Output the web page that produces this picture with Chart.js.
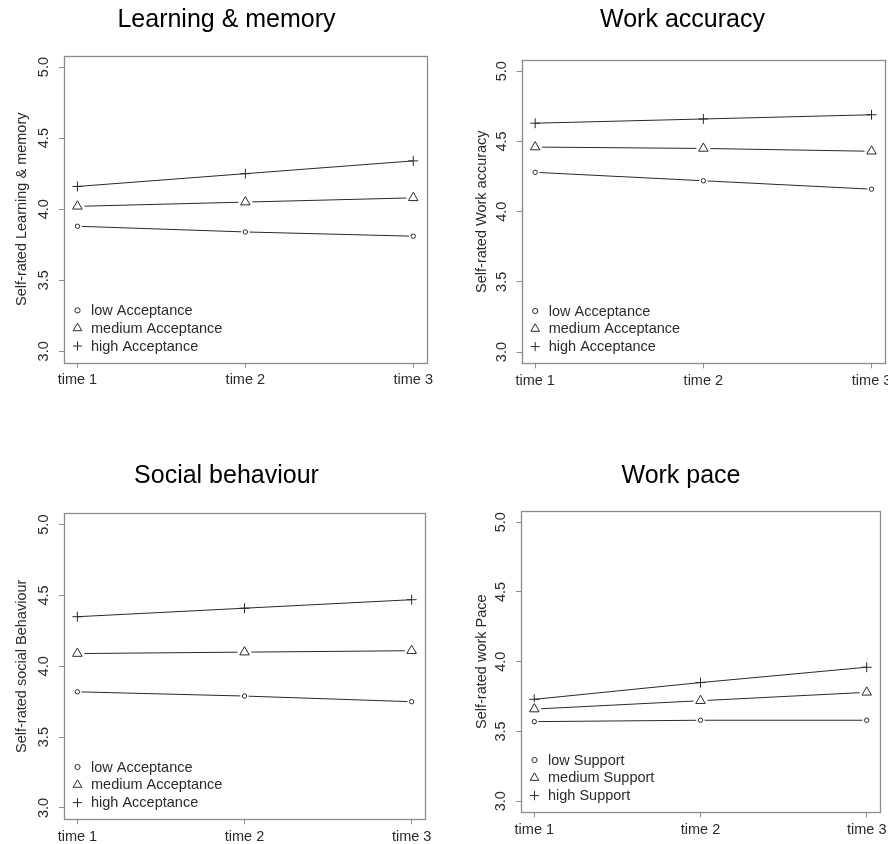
<!DOCTYPE html>
<html>
<head>
<meta charset="utf-8">
<script src="https://cdn.jsdelivr.net/npm/chart.js@4.4.1/dist/chart.umd.min.js"></script>
<style>
  html, body { margin: 0; padding: 0; background: #fff; overflow: hidden; width: 888px; height: 844px; }
  canvas { position: absolute; }
</style>
</head>
<body>
<canvas id="learning"></canvas>
<canvas id="accuracy"></canvas>
<canvas id="social"></canvas>
<canvas id="pace"></canvas>
<script>
// ---- data ----
const timeLabels = ['time 1', 'time 2', 'time 3'];
const yTickValues = [3.0, 3.5, 4.0, 4.5, 5.0];

const acceptanceLevels = ['low Acceptance', 'medium Acceptance', 'high Acceptance'];
const supportLevels = ['low Support', 'medium Support', 'high Support'];

const learningLow = [3.88, 3.84, 3.81];
const learningMedium = [4.02, 4.05, 4.08];
const learningHigh = [4.16, 4.25, 4.34];

const accuracyLow = [4.28, 4.22, 4.16];
const accuracyMedium = [4.46, 4.45, 4.43];
const accuracyHigh = [4.63, 4.66, 4.69];

const socialLow = [3.82, 3.79, 3.75];
const socialMedium = [4.09, 4.10, 4.11];
const socialHigh = [4.35, 4.41, 4.47];

const paceLow = [3.57, 3.58, 3.58];
const paceMedium = [3.66, 3.72, 3.78];
const paceHigh = [3.73, 3.85, 3.96];

// ---- styling ----
const FONT = '"Liberation Sans", Arial, Helvetica, sans-serif';
const INK = '#2a2a2a';
const TEXT = '#2b2b2b';
const FRAME = '#8c8c8c';
const MARKERS = [
  { style: 'circle', r: 2.2, legendR: 2.6, gap: 2 },
  { style: 'triangle', r: 5.5, legendR: 5.0, gap: 1.5 },
  { style: 'cross', r: 5, legendR: 4.6, gap: 0 }
];

// panel placement on the page
const panels = [
  { id: 'learning', title: 'Learning & memory', yTitle: 'Self-rated Learning & memory',
    levels: acceptanceLevels, series: [learningLow, learningMedium, learningHigh],
    x: 0, y: 0, w: 453, h: 400, yAxisW: 64, spacer: 26.3, titleTop: 5.5, titleBottom: 20.2, xAxisH: 37.3, yTitlePad: 13.3 },
  { id: 'accuracy', title: 'Work accuracy', yTitle: 'Self-rated Work accuracy',
    levels: acceptanceLevels, series: [accuracyLow, accuracyMedium, accuracyHigh],
    x: 453, y: 0, w: 459, h: 400, yAxisW: 68.7, spacer: 27, titleTop: 5.5, titleBottom: 24.5, xAxisH: 36.7, yTitlePad: 20 },
  { id: 'social', title: 'Social behaviour', yTitle: 'Self-rated social Behaviour',
    levels: acceptanceLevels, series: [socialLow, socialMedium, socialHigh],
    x: 0, y: 440, w: 453, h: 404, yAxisW: 64, spacer: 28, titleTop: 21, titleBottom: 22.3, xAxisH: 24.7, yTitlePad: 13 },
  { id: 'pace', title: 'Work pace', yTitle: 'Self-rated work Pace',
    levels: supportLevels, series: [paceLow, paceMedium, paceHigh],
    x: 453, y: 440, w: 456, h: 404, yAxisW: 68, spacer: 29, titleTop: 21, titleBottom: 20, xAxisH: 31.7, yTitlePad: 20 }
];

// frame around the plotting region
const framePlugin = {
  id: 'frame',
  beforeDatasetsDraw(chart) {
    const { ctx, chartArea: a } = chart;
    ctx.save();
    ctx.strokeStyle = FRAME;
    ctx.lineWidth = 1.3;
    ctx.strokeRect(Math.round(a.left) + 0.5, Math.round(a.top) + 0.5,
      Math.round(a.right - a.left), Math.round(a.bottom - a.top));
    ctx.restore();
  }
};

// "both" style: the connecting line stops short of open symbols
const symbolGaps = {
  id: 'symbolGaps',
  afterDatasetsDraw(chart) {
    const { ctx, chartArea } = chart;
    chart.data.datasets.forEach((d, i) => {
      const gap = MARKERS[i].gap;
      if (!gap) return;
      const meta = chart.getDatasetMeta(i);
      meta.data.forEach(pt => {
        ctx.save();
        ctx.fillStyle = '#fff';
        ctx.beginPath();
        ctx.arc(pt.x, pt.y, MARKERS[i].r + gap, 0, Math.PI * 2);
        ctx.fill();
        ctx.restore();
        pt.draw(ctx, chartArea);
      });
    });
  }
};

function drawMarker(ctx, style, r, x, y) {
  ctx.beginPath();
  if (style === 'circle') {
    ctx.arc(x, y, r, 0, Math.PI * 2);
  } else if (style === 'triangle') {
    const half = r * Math.sin(Math.PI / 3);
    ctx.moveTo(x, y - r);
    ctx.lineTo(x + half, y + r / 2);
    ctx.lineTo(x - half, y + r / 2);
    ctx.closePath();
  } else {
    ctx.moveTo(x - r, y); ctx.lineTo(x + r, y);
    ctx.moveTo(x, y - r); ctx.lineTo(x, y + r);
  }
  ctx.stroke();
}

// borderless key in the lower-left corner of the plot
const cornerLegend = {
  id: 'cornerLegend',
  afterDraw(chart) {
    const { ctx, chartArea: a } = chart;
    const ds = chart.data.datasets;
    const rowGap = 17.8;
    ctx.save();
    ctx.font = '14.5px ' + FONT;
    ctx.textBaseline = 'middle';
    ctx.textAlign = 'left';
    ds.forEach((d, i) => {
      const y = a.bottom - 16.7 - (ds.length - 1 - i) * rowGap;
      const mx = a.left + 13.5;
      ctx.strokeStyle = INK;
      ctx.lineWidth = 1;
      drawMarker(ctx, MARKERS[i].style, MARKERS[i].legendR, mx, y);
      ctx.fillStyle = TEXT;
      ctx.fillText(d.label, mx + 13.5, y + 0.5);
    });
    ctx.restore();
  }
};

function makePanel(p) {
  const cv = document.getElementById(p.id);
  cv.width = p.w; cv.height = p.h;
  cv.style.left = p.x + 'px'; cv.style.top = p.y + 'px';

  new Chart(cv, {
    type: 'line',
    data: {
      datasets: p.series.map((vals, i) => ({
        label: p.levels[i],
        data: vals.map((v, k) => ({ x: k + 1, y: v })),
        borderColor: INK,
        borderWidth: 1,
        tension: 0,
        fill: false,
        pointStyle: MARKERS[i].style,
        pointRadius: MARKERS[i].r,
        pointBorderColor: INK,
        pointBackgroundColor: 'rgba(255,255,255,0)',
        pointBorderWidth: 1
      }))
    },
    options: {
      responsive: false,
      animation: false,
      devicePixelRatio: 1,
      layout: { padding: 0 },
      events: [],
      plugins: {
        legend: { display: false },
        tooltip: { enabled: false },
        title: {
          display: true,
          text: p.title,
          color: '#000',
          font: { family: FONT, size: 25, weight: 'normal', lineHeight: 1.2 },
          padding: { top: p.titleTop, bottom: p.titleBottom }
        }
      },
      scales: {
        x: {
          type: 'linear',
          min: 0.92,
          max: 3.08,
          afterBuildTicks: s => { s.ticks = timeLabels.map((_, k) => ({ value: k + 1 })); },
          afterFit: s => { s.height = p.xAxisH; },
          border: { display: false },
          grid: { drawOnChartArea: false, drawTicks: true, tickLength: 5, color: FRAME, lineWidth: 1 },
          ticks: {
            autoSkip: false, maxRotation: 0, minRotation: 0, padding: 3.6,
            color: TEXT, font: { family: FONT, size: 14.5 },
            callback: v => timeLabels[Math.round(v) - 1]
          }
        },
        y: {
          type: 'linear',
          min: 2.92,
          max: 5.08,
          afterBuildTicks: s => { s.ticks = yTickValues.map(v => ({ value: v })); },
          afterFit: s => { s.width = p.yAxisW; },
          border: { display: false },
          grid: { drawOnChartArea: false, drawTicks: true, tickLength: 5, color: FRAME, lineWidth: 1 },
          ticks: {
            minRotation: 90, maxRotation: 90, crossAlign: 'center', padding: 5,
            color: TEXT, font: { family: FONT, size: 14.5 },
            callback: v => v.toFixed(1)
          },
          title: {
            display: true, text: p.yTitle, color: TEXT,
            font: { family: FONT, size: 14.5, lineHeight: 1.2 },
            padding: { top: p.yTitlePad, bottom: 0 }
          }
        },
        spacer: {
          type: 'linear',
          position: 'right',
          display: true,
          border: { display: false },
          grid: { display: false },
          ticks: { display: false },
          afterFit: s => { s.width = p.spacer; }
        }
      }
    },
    plugins: [framePlugin, symbolGaps, cornerLegend]
  });
}

panels.forEach(makePanel);
</script>
</body>
</html>
